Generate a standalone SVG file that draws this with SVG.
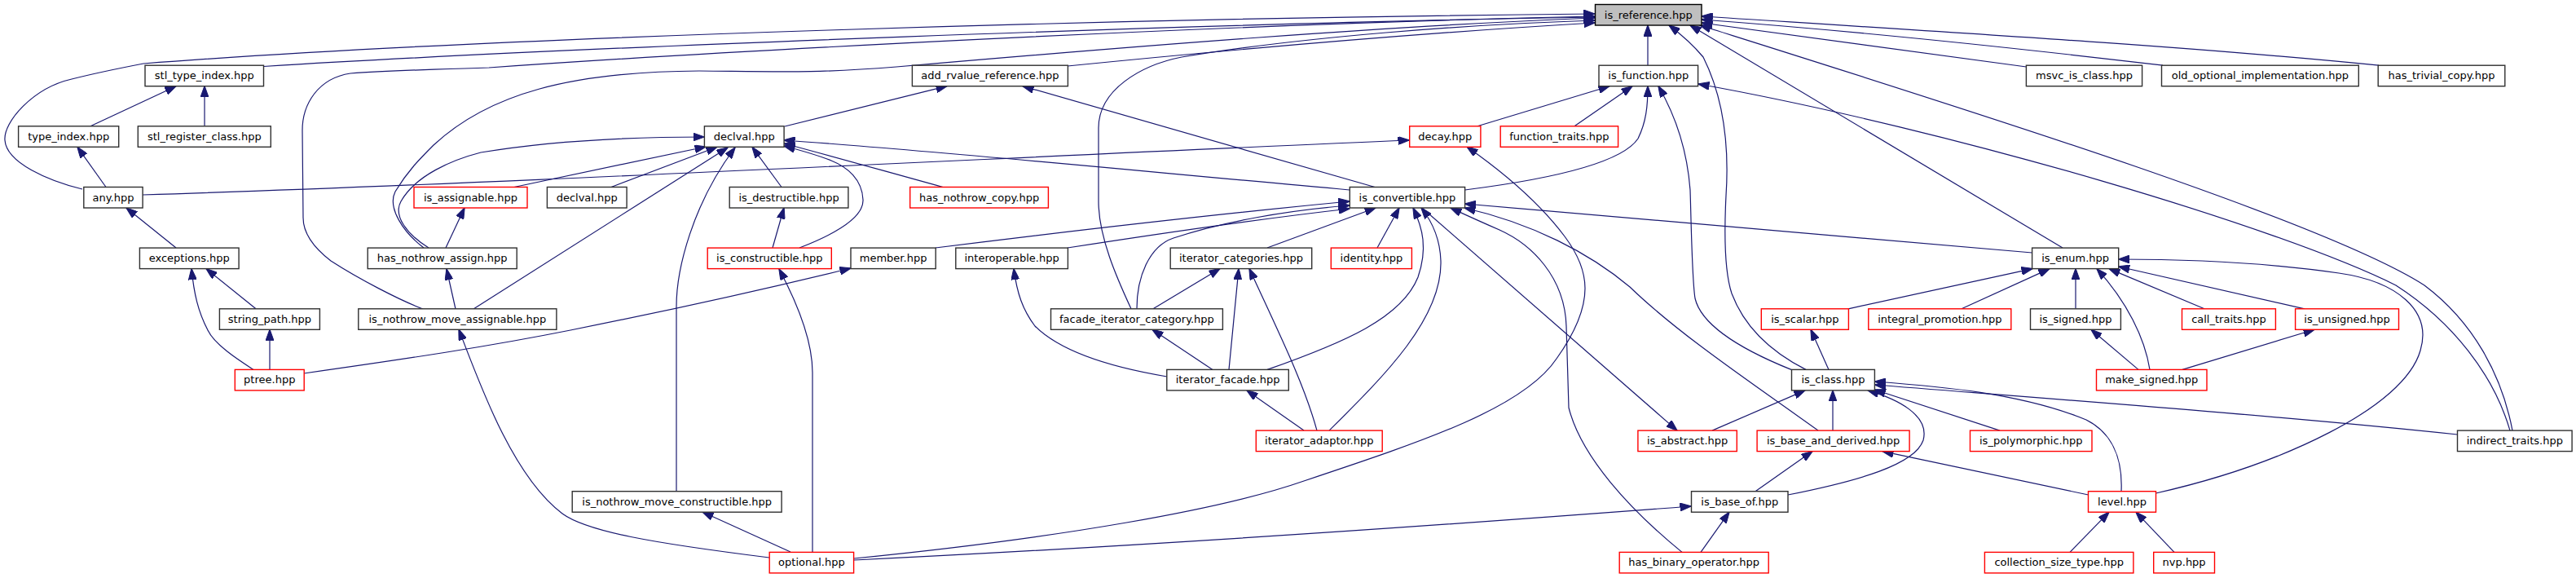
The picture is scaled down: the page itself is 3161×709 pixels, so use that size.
<svg xmlns="http://www.w3.org/2000/svg" width="3161" height="709" viewBox="0 0 3161 709">
<style>
.n rect{fill:#fff;stroke:#303030;stroke-width:1.4}
.r rect{fill:#fff;stroke:#ff0000;stroke-width:1.4}
.root rect{fill:#bfbfbf;stroke:#000;stroke-width:1.4}
text{font-family:"DejaVu Sans","Liberation Sans",sans-serif;font-size:13px;fill:#000;text-anchor:middle}
#edges path{fill:none;stroke:#191970;stroke-width:1.2;marker-end:url(#ah)}
</style>
<defs>
<marker id="ah" markerUnits="userSpaceOnUse" markerWidth="14" markerHeight="10" refX="13.5" refY="5" orient="auto" viewBox="0 0 14 10">
<path d="M0,0 L14,5 L0,10 z" fill="#191970" stroke="#191970" stroke-width="1"/>
</marker>
</defs>
<rect width="3161" height="709" fill="#fff"/>
<g id="edges">
<path d="M323.5,81.5 C700,58 1500,28 1957,21"/>
<path d="M101,232 C60,222 8,200 6,172 C4,150 40,108 88,97 C120,89 150,83 176,78 C600,45 1400,22 1957,17"/>
<path d="M520,304 C495,285 475,255 485,235 C500,210 515,195 532,178 C600,115 700,88 858,87 C960,88 1000,90 1100,82 C1400,56 1700,32 1957,22"/>
<path d="M526,304 C500,288 482,265 492,247 C510,215 555,196 590,187 C680,172 780,168 864,168"/>
<path d="M519,379 C490,368 440,342 406,320 C380,300 372,282 372,267 L371,160 C371,128 390,96 430,90 C480,86 520,86 600,83 C900,62 1500,30 1957,20"/>
<path d="M559,379 L548,330"/>
<path d="M581,379 L893,181"/>
<path d="M830,603 L830,376 C830,330 850,250 902,181"/>
<path d="M970,677 L862,628"/>
<path d="M944,684 C800,666 720,652 690,630 C630,585 590,475 563,404"/>
<path d="M997,677 L997,457 C997,420 980,375 956,330"/>
<path d="M1048,685 C1300,660 1500,625 1600,590 C1750,540 1870,500 1910,440 C1960,370 1950,330 1920,290 C1890,250 1850,215 1800,180"/>
<path d="M1048,687 C1400,670 1800,642 2075,621"/>
<path d="M130,229.5 L95,180.3"/>
<path d="M175,239 C600,226 1300,190 1729,172"/>
<path d="M111,154.8 L216,105.7"/>
<path d="M251,154.8 L251,105.7"/>
<path d="M216,304 L155,255"/>
<path d="M314,378.8 L253,329.6"/>
<path d="M311,453.4 C290,440 263,422 255,405 C243,382 238,360 235,329.6"/>
<path d="M331,453.4 L331,404.3"/>
<path d="M373,458 C500,440 600,425 700,405 C850,375 950,352 1044,329"/>
<path d="M631,229.5 L866,180"/>
<path d="M547,304 L570,255"/>
<path d="M750,229.5 L880,180.3"/>
<path d="M959,229.5 L923,180.3"/>
<path d="M948,304 L962,255"/>
<path d="M981,304 C1030,285 1060,265 1059,245 C1058,220 1040,205 1020,197 C1000,189 985,185 962,179"/>
<path d="M1157,229.5 C1100,214 1030,194 962,176"/>
<path d="M1656,233 C1400,210 1150,185 962,172"/>
<path d="M963,155 L1162,105.7"/>
<path d="M1687,229.5 L1255,105.7"/>
<path d="M1310,81 C1500,62 1750,40 1957,28"/>
<path d="M1388,378.8 C1370,340 1348,290 1348,247 L1348,157 C1348,110 1400,80 1450,70 C1600,45 1800,30 1957,25"/>
<path d="M1395,378.8 C1395,340 1410,302 1440,292 C1500,272 1580,258 1656,252"/>
<path d="M1415,378.8 L1497,329.6"/>
<path d="M1555,304 L1688,255"/>
<path d="M1690,304 L1717,255"/>
<path d="M1148,304 C1300,285 1500,262 1656,247"/>
<path d="M1310,304 C1400,290 1550,268 1656,256"/>
<path d="M1555,453.4 C1650,420 1720,390 1740,340 C1752,305 1746,280 1734,255"/>
<path d="M1432,462 C1330,445 1290,420 1270,400 C1255,380 1248,360 1244,329.6"/>
<path d="M1508,453.4 L1520,329.6"/>
<path d="M1488,453.4 L1414,404.3"/>
<path d="M1600,528.1 L1530,478.9"/>
<path d="M1616,528.1 C1600,470 1570,410 1533,329.6"/>
<path d="M1631,528.1 C1700,460 1770,390 1768,320 C1767,290 1756,270 1744,255"/>
<path d="M1745,255 L2058,528.1"/>
<path d="M2064,677.4 C2000,625 1940,560 1925,500 L1922,400 C1920,340 1880,300 1840,282 C1812,270 1795,262 1780,255"/>
<path d="M2231,528.1 C2150,470 2060,410 2000,352 C1950,310 1880,274 1797,255"/>
<path d="M2022,80.2 L2022,31"/>
<path d="M1813,154.8 L1975,105.7"/>
<path d="M1932,154.8 L2003,105.7"/>
<path d="M1797.6,233 C1900,220 1990,200 2010,170 C2020,150 2022,130 2022,105.7"/>
<path d="M2198,453.4 C2140,430 2088,400 2080,366 C2076,340 2075,260 2074,233 C2070,180 2055,140 2035,105.7"/>
<path d="M2216,453.4 C2170,430 2140,400 2125,360 C2115,330 2116,280 2118,240 C2122,180 2115,120 2090,70 C2075,52 2060,40 2048,31"/>
<path d="M2486.4,82 L2088,28"/>
<path d="M2654,80.2 C2450,56 2250,36 2088,24"/>
<path d="M2919,80.2 C2700,58 2400,40 2088,20"/>
<path d="M3083,528.1 C3070,460 3035,395 2975,350 C2850,270 2400,130 2086,31"/>
<path d="M3080,528.1 C3060,460 3010,395 2940,350 C2800,280 2400,160 2084,103"/>
<path d="M3015.5,533 C2800,510 2500,488 2300.4,472"/>
<path d="M2531,304.1 L2074,31"/>
<path d="M2493.6,310 L1797.6,250"/>
<path d="M2268,378.8 L2494,329.6"/>
<path d="M2407,378.8 L2515,329.6"/>
<path d="M2547,378.8 L2547,329.6"/>
<path d="M2638,453.4 C2632,415 2610,370 2573,329.6"/>
<path d="M2624,453.4 L2566,404.3"/>
<path d="M2678,453.4 L2840,404.3"/>
<path d="M2705,378.8 L2588,329.6"/>
<path d="M2828,378.8 L2599.7,327"/>
<path d="M2645.5,605 C2800,570 2950,500 2970,430 C2985,380 2940,345 2870,335 C2780,322 2680,318 2599.7,318"/>
<path d="M2603,602.7 C2605,560 2590,530 2560,515 C2480,482 2380,474 2300.4,468"/>
<path d="M2562.5,607 L2310,553.6"/>
<path d="M2540,677.4 L2588,628.2"/>
<path d="M2668,677.4 L2621,628.2"/>
<path d="M2101,528.1 L2215,478.9"/>
<path d="M2249,528.1 L2249,478.9"/>
<path d="M2194,607 C2280,590 2350,570 2360,540 C2368,510 2330,490 2292,478.9"/>
<path d="M2454,528.1 L2300.4,478"/>
<path d="M2154,602.7 L2224,553.6"/>
<path d="M2087,677.4 L2122,628.2"/>
<path d="M2244,453.4 L2222,404.3"/>
</g>
<g id="is_reference" class="root"><rect x="1957.5" y="5.5" width="130.5" height="25.5"/><text x="2022.75" y="22.5">is_reference.hpp</text></g>
<g id="stl_type_index" class="n"><rect x="178" y="80.2" width="145.5" height="25.5"/><text x="250.75" y="97.2">stl_type_index.hpp</text></g>
<g id="add_rvalue_reference" class="n"><rect x="1119.4" y="80.2" width="191" height="25.5"/><text x="1214.9" y="97.2">add_rvalue_reference.hpp</text></g>
<g id="is_function" class="n"><rect x="1962" y="80.2" width="121.6" height="25.5"/><text x="2022.8" y="97.2">is_function.hpp</text></g>
<g id="msvc_is_class" class="n"><rect x="2486.4" y="80.2" width="142.2" height="25.5"/><text x="2557.5" y="97.2">msvc_is_class.hpp</text></g>
<g id="old_optional_implementation" class="n"><rect x="2652.5" y="80.2" width="241.8" height="25.5"/><text x="2773.4" y="97.2">old_optional_implementation.hpp</text></g>
<g id="has_trivial_copy" class="n"><rect x="2918.2" y="80.2" width="155.6" height="25.5"/><text x="2996" y="97.2">has_trivial_copy.hpp</text></g>
<g id="type_index" class="n"><rect x="22.6" y="154.8" width="123.1" height="25.5"/><text x="84.15" y="171.8">type_index.hpp</text></g>
<g id="stl_register_class" class="n"><rect x="169.3" y="154.8" width="163" height="25.5"/><text x="250.8" y="171.8">stl_register_class.hpp</text></g>
<g id="declval_tt" class="n"><rect x="864.4" y="154.8" width="97.7" height="25.5"/><text x="913.25" y="171.8">declval.hpp</text></g>
<g id="decay" class="r"><rect x="1729.7" y="154.8" width="87.2" height="25.5"/><text x="1773.3" y="171.8">decay.hpp</text></g>
<g id="function_traits" class="r"><rect x="1841.2" y="154.8" width="144.4" height="25.5"/><text x="1913.4" y="171.8">function_traits.hpp</text></g>
<g id="any" class="n"><rect x="102.8" y="229.5" width="72.3" height="25.5"/><text x="138.95" y="246.5">any.hpp</text></g>
<g id="is_assignable" class="r"><rect x="508" y="229.5" width="139" height="25.5"/><text x="577.5" y="246.5">is_assignable.hpp</text></g>
<g id="declval_util" class="n"><rect x="671.4" y="229.5" width="97.7" height="25.5"/><text x="720.25" y="246.5">declval.hpp</text></g>
<g id="is_destructible" class="n"><rect x="895.2" y="229.5" width="145.7" height="25.5"/><text x="968.05" y="246.5">is_destructible.hpp</text></g>
<g id="has_nothrow_copy" class="r"><rect x="1116.7" y="229.5" width="169.7" height="25.5"/><text x="1201.55" y="246.5">has_nothrow_copy.hpp</text></g>
<g id="is_convertible" class="n"><rect x="1656.3" y="229.5" width="141.3" height="25.5"/><text x="1726.95" y="246.5">is_convertible.hpp</text></g>
<g id="exceptions" class="n"><rect x="171.4" y="304.1" width="121.7" height="25.5"/><text x="232.25" y="321.1">exceptions.hpp</text></g>
<g id="has_nothrow_assign" class="n"><rect x="451.2" y="304.1" width="183" height="25.5"/><text x="542.7" y="321.1">has_nothrow_assign.hpp</text></g>
<g id="is_constructible" class="r"><rect x="868.2" y="304.1" width="152.1" height="25.5"/><text x="944.25" y="321.1">is_constructible.hpp</text></g>
<g id="member" class="n"><rect x="1044" y="304.1" width="104.2" height="25.5"/><text x="1096.1" y="321.1">member.hpp</text></g>
<g id="interoperable" class="n"><rect x="1172.8" y="304.1" width="137.6" height="25.5"/><text x="1241.6" y="321.1">interoperable.hpp</text></g>
<g id="iterator_categories" class="n"><rect x="1436.2" y="304.1" width="173.5" height="25.5"/><text x="1522.95" y="321.1">iterator_categories.hpp</text></g>
<g id="identity" class="r"><rect x="1633.3" y="304.1" width="99.1" height="25.5"/><text x="1682.85" y="321.1">identity.hpp</text></g>
<g id="is_enum" class="n"><rect x="2493.6" y="304.1" width="106.1" height="25.5"/><text x="2546.65" y="321.1">is_enum.hpp</text></g>
<g id="string_path" class="n"><rect x="269.4" y="378.8" width="123" height="25.5"/><text x="330.9" y="395.8">string_path.hpp</text></g>
<g id="is_nothrow_move_assignable" class="n"><rect x="439.8" y="378.8" width="243.1" height="25.5"/><text x="561.35" y="395.8">is_nothrow_move_assignable.hpp</text></g>
<g id="facade_iterator_category" class="n"><rect x="1289.5" y="378.8" width="210.9" height="25.5"/><text x="1394.95" y="395.8">facade_iterator_category.hpp</text></g>
<g id="is_scalar" class="r"><rect x="2161.3" y="378.8" width="107.1" height="25.5"/><text x="2214.85" y="395.8">is_scalar.hpp</text></g>
<g id="integral_promotion" class="r"><rect x="2292.8" y="378.8" width="175" height="25.5"/><text x="2380.3" y="395.8">integral_promotion.hpp</text></g>
<g id="is_signed" class="n"><rect x="2491.5" y="378.8" width="110.9" height="25.5"/><text x="2546.95" y="395.8">is_signed.hpp</text></g>
<g id="call_traits" class="r"><rect x="2677.5" y="378.8" width="114.9" height="25.5"/><text x="2734.95" y="395.8">call_traits.hpp</text></g>
<g id="is_unsigned" class="r"><rect x="2816.6" y="378.8" width="126.9" height="25.5"/><text x="2880.05" y="395.8">is_unsigned.hpp</text></g>
<g id="ptree" class="r"><rect x="288.3" y="453.4" width="84.9" height="25.5"/><text x="330.75" y="470.4">ptree.hpp</text></g>
<g id="iterator_facade" class="n"><rect x="1431.8" y="453.4" width="149.5" height="25.5"/><text x="1506.55" y="470.4">iterator_facade.hpp</text></g>
<g id="is_class" class="n"><rect x="2198.5" y="453.4" width="101.9" height="25.5"/><text x="2249.45" y="470.4">is_class.hpp</text></g>
<g id="make_signed" class="r"><rect x="2572.5" y="453.4" width="135.5" height="25.5"/><text x="2640.25" y="470.4">make_signed.hpp</text></g>
<g id="iterator_adaptor" class="r"><rect x="1541.3" y="528.1" width="154.9" height="25.5"/><text x="1618.75" y="545.1">iterator_adaptor.hpp</text></g>
<g id="is_abstract" class="r"><rect x="2009.9" y="528.1" width="121.4" height="25.5"/><text x="2070.6" y="545.1">is_abstract.hpp</text></g>
<g id="is_base_and_derived" class="r"><rect x="2156.1" y="528.1" width="187" height="25.5"/><text x="2249.6" y="545.1">is_base_and_derived.hpp</text></g>
<g id="is_polymorphic" class="r"><rect x="2417.5" y="528.1" width="149.5" height="25.5"/><text x="2492.25" y="545.1">is_polymorphic.hpp</text></g>
<g id="indirect_traits" class="n"><rect x="3015.5" y="528.1" width="140.6" height="25.5"/><text x="3085.8" y="545.1">indirect_traits.hpp</text></g>
<g id="is_nothrow_move_constructible" class="n"><rect x="702.2" y="602.7" width="256.9" height="25.5"/><text x="830.65" y="619.7">is_nothrow_move_constructible.hpp</text></g>
<g id="is_base_of" class="n"><rect x="2075.5" y="602.7" width="118.5" height="25.5"/><text x="2134.75" y="619.7">is_base_of.hpp</text></g>
<g id="level" class="r"><rect x="2562.5" y="602.7" width="83" height="25.5"/><text x="2604" y="619.7">level.hpp</text></g>
<g id="optional" class="r"><rect x="944.2" y="677.4" width="103.4" height="25.5"/><text x="995.9" y="694.4">optional.hpp</text></g>
<g id="has_binary_operator" class="r"><rect x="1987.2" y="677.4" width="183" height="25.5"/><text x="2078.7" y="694.4">has_binary_operator.hpp</text></g>
<g id="collection_size_type" class="r"><rect x="2435.4" y="677.4" width="182.5" height="25.5"/><text x="2526.65" y="694.4">collection_size_type.hpp</text></g>
<g id="nvp" class="r"><rect x="2642.7" y="677.4" width="74.8" height="25.5"/><text x="2680.1" y="694.4">nvp.hpp</text></g>
</svg>
